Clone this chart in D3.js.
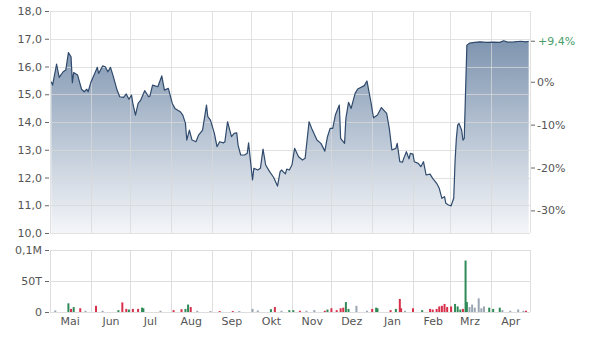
<!DOCTYPE html>
<html>
<head>
<meta charset="utf-8">
<script src="https://cdn.jsdelivr.net/npm/d3@7"></script>
<style>
  body { margin: 0; background: #fff; }
  svg text { font-family: "DejaVu Sans", Verdana, sans-serif; font-size: 11px; fill: #555; }
  .axis path.domain { display: none; }
  .axis line { stroke: #666; }
</style>
</head>
<body>
<div id="chart"></div>
<script>
// price series
var priceDates = [
  "2022-05-02","2022-05-03","2022-05-06","2022-05-08","2022-05-11","2022-05-13","2022-05-15","2022-05-17",
  "2022-05-18","2022-05-19","2022-05-22","2022-05-25","2022-05-27","2022-05-29","2022-05-30","2022-06-01",
  "2022-06-04","2022-06-06","2022-06-07","2022-06-10","2022-06-12","2022-06-14","2022-06-16","2022-06-18",
  "2022-06-21","2022-06-23","2022-06-26","2022-06-28","2022-06-30","2022-07-02","2022-07-03","2022-07-05",
  "2022-07-07","2022-07-09","2022-07-12","2022-07-15","2022-07-16","2022-07-18","2022-07-22","2022-07-25",
  "2022-07-27","2022-07-30","2022-08-02","2022-08-04","2022-08-08","2022-08-10","2022-08-12","2022-08-13",
  "2022-08-15","2022-08-17","2022-08-20","2022-08-22","2022-08-25","2022-08-28","2022-08-29","2022-08-31",
  "2022-09-03","2022-09-05","2022-09-07","2022-09-10","2022-09-11","2022-09-13","2022-09-15","2022-09-16",
  "2022-09-18","2022-09-20","2022-09-21","2022-09-23","2022-09-26","2022-09-28","2022-09-29","2022-10-02",
  "2022-10-03","2022-10-06","2022-10-08","2022-10-10","2022-10-12","2022-10-15","2022-10-18","2022-10-21",
  "2022-10-23","2022-10-24","2022-10-27","2022-10-28","2022-10-30","2022-11-01","2022-11-03","2022-11-06",
  "2022-11-09","2022-11-11","2022-11-14","2022-11-16","2022-11-20","2022-11-23","2022-11-26","2022-11-28",
  "2022-11-30","2022-12-02","2022-12-04","2022-12-07","2022-12-08","2022-12-11","2022-12-12","2022-12-14",
  "2022-12-16","2022-12-19","2022-12-21","2022-12-26","2022-12-28","2022-12-31","2023-01-02","2023-01-05",
  "2023-01-08","2023-01-12","2023-01-14","2023-01-16","2023-01-19","2023-01-20","2023-01-22","2023-01-24",
  "2023-01-25","2023-01-27","2023-01-29","2023-01-30","2023-02-01","2023-02-02","2023-02-05","2023-02-07",
  "2023-02-09","2023-02-11","2023-02-14","2023-02-16","2023-02-19","2023-02-21","2023-02-23","2023-02-25",
  "2023-02-26","2023-02-28","2023-03-02","2023-03-04","2023-03-05","2023-03-06","2023-03-07","2023-03-08",
  "2023-03-10","2023-03-11","2023-03-12","2023-03-14","2023-03-16","2023-03-20","2023-03-24","2023-03-29",
  "2023-04-03","2023-04-08","2023-04-11","2023-04-14","2023-04-19","2023-04-24","2023-04-28","2023-04-30"
];
var priceValues = [
  15.45,15.33,16.09,15.61,15.81,15.87,16.50,16.35,
  15.42,15.78,15.69,15.18,15.09,15.18,15.09,15.42,
  15.75,15.97,15.75,16.02,15.99,15.81,15.97,15.66,
  15.15,14.91,14.89,15.01,14.82,14.97,14.67,14.25,
  14.67,14.79,15.13,14.91,14.94,15.33,15.27,15.66,
  15.15,15.21,14.67,14.49,14.37,14.25,13.95,13.35,
  13.71,13.35,13.29,13.53,13.71,14.61,14.19,14.07,
  13.59,13.11,13.29,13.25,13.29,14.01,13.65,13.47,
  13.59,13.61,13.17,12.81,12.81,12.87,13.25,11.91,
  12.33,12.27,12.33,13.02,12.45,12.21,12.01,11.69,
  12.21,12.27,12.13,12.30,12.27,12.45,13.05,12.75,
  12.63,12.69,14.01,13.77,13.35,13.23,12.95,13.47,
  13.77,13.77,14.25,14.61,13.41,13.23,14.13,14.71,
  14.49,15.03,15.19,15.31,15.48,14.73,14.15,14.25,
  14.52,14.31,13.77,12.99,13.05,13.23,12.57,12.55,
  12.69,12.93,12.67,12.87,12.84,12.57,12.51,12.39,
  12.57,12.09,12.12,11.97,11.79,11.61,11.25,11.31,
  11.07,11.01,10.98,11.25,12.57,13.41,13.89,13.95,
  13.71,13.35,13.41,16.77,16.84,16.87,16.89,16.87,
  16.88,16.87,16.93,16.88,16.89,16.91,16.89,16.91
];

// volume series: direction 1 = up, -1 = down, 0 = unchanged
var volDates = [
  "2022-05-05","2022-05-15","2022-05-17","2022-05-19","2022-05-24","2022-05-28","2022-06-05","2022-06-10",
  "2022-06-22","2022-06-25","2022-06-28","2022-06-30","2022-07-03","2022-07-07","2022-07-10","2022-07-11",
  "2022-07-24","2022-08-03","2022-08-09","2022-08-12","2022-08-14","2022-08-16","2022-08-21","2022-08-31",
  "2022-09-07","2022-09-17","2022-09-22","2022-10-02","2022-10-06","2022-10-16","2022-10-19","2022-10-24",
  "2022-10-30","2022-11-02","2022-11-07","2022-11-12","2022-11-18","2022-11-26","2022-11-28","2022-12-01",
  "2022-12-05","2022-12-08","2022-12-10","2022-12-12","2022-12-14","2022-12-20","2022-12-28","2023-01-01",
  "2023-01-04","2023-01-05","2023-01-15","2023-01-19","2023-01-22","2023-01-23","2023-01-26","2023-02-01",
  "2023-02-08","2023-02-14","2023-02-16","2023-02-19","2023-02-21","2023-02-23","2023-02-25","2023-02-27",
  "2023-03-02","2023-03-05","2023-03-07","2023-03-09","2023-03-11","2023-03-13","2023-03-14","2023-03-16",
  "2023-03-18","2023-03-20","2023-03-23","2023-03-25","2023-03-27","2023-03-31","2023-04-03","2023-04-08",
  "2023-04-10","2023-04-16","2023-04-22","2023-04-26","2023-04-28"
];
var volValues = [
  2500,14000,5000,8000,6000,2000,10000,2000,
  3000,15500,5000,4000,5000,5000,7000,6000,
  2000,3000,4500,5000,12000,8000,2000,1500,
  1500,1500,1500,5000,2500,4500,8000,2000,
  3000,3000,2000,2000,3000,2000,4000,6000,
  3000,6000,7000,16000,5000,10000,2000,5000,
  7000,6000,3000,5000,21000,6000,2000,6000,
  3000,5000,4000,5000,9000,10000,13000,8000,
  9000,13000,9000,4000,5000,83000,16000,8000,
  12000,7000,22000,6000,9000,7000,5000,7000,
  3000,2000,4000,2000,2000
];
var volDir = [
  0,1,-1,1,-1,0,-1,0,
  1,-1,-1,1,-1,-1,1,1,
  0,-1,-1,1,1,-1,0,0,
  -1,-1,0,0,0,1,-1,0,
  1,1,-1,0,0,-1,1,-1,
  -1,-1,-1,1,1,0,0,-1,
  1,1,-1,1,-1,-1,0,-1,
  1,-1,-1,-1,-1,-1,-1,-1,
  -1,1,1,1,-1,1,1,0,
  0,0,0,0,0,1,1,1,
  0,0,0,0,-1
];

var monthLabels = ["Mai","Jun","Jul","Aug","Sep","Okt","Nov","Dez","Jan","Feb","Mrz","Apr"];
var priceTicks = [10, 11, 12, 13, 14, 15, 16, 17, 18];
var pctTicks = [-30, -20, -10, 0];
var volTicks = [0, 50000, 100000];

var width = 595, height = 340;
var parse = d3.timeParse("%Y-%m-%d");
var start = parse("2022-05-01"), end = parse("2023-05-01");

var svg = d3.select("#chart").append("svg")
    .attr("width", width)
    .attr("height", height);

var x = d3.scaleTime().domain([start, end]).range([50, 530]);
var y = d3.scaleLinear().domain([10, 18]).range([233, 11]);
var base = priceValues[0];
var yPct = d3.scaleLinear().domain([(10 / base - 1) * 100, (18 / base - 1) * 100]).range([233, 11]);
var yVol = d3.scaleLinear().domain([0, 100000]).range([312, 250]);

var prices = priceDates.map(function(d, i) { return {date: parse(d), value: priceValues[i]}; });
var months = d3.timeMonth.range(start, d3.timeDay.offset(end, 1));

var comma = function(s) { return s.replace(".", ","); };

// gradient for the area
var defs = svg.append("defs");
var grad = defs.append("linearGradient")
    .attr("id", "areaGrad")
    .attr("gradientUnits", "userSpaceOnUse")
    .attr("x1", 0).attr("y1", y(18))
    .attr("x2", 0).attr("y2", y(10));
grad.append("stop").attr("offset", "0%").attr("stop-color", "#6d86a5");
grad.append("stop").attr("offset", "100%").attr("stop-color", "#f4f6f9");

// price area + line
var area = d3.area()
    .x(function(d) { return x(d.date); })
    .y0(y(10))
    .y1(function(d) { return y(d.value); });
var line = d3.line()
    .x(function(d) { return x(d.date); })
    .y(function(d) { return y(d.value); });

svg.append("path")
    .datum(prices)
    .attr("d", area)
    .attr("fill", "url(#areaGrad)");

// grid on top of the area, lightly
var grid = svg.append("g").attr("stroke", "#d8d8d8").attr("stroke-opacity", 0.75).attr("shape-rendering", "crispEdges");
grid.selectAll("line.h").data(priceTicks).enter().append("line")
    .attr("x1", 50).attr("x2", 530)
    .attr("y1", function(d) { return Math.round(y(d)) + 0.5; })
    .attr("y2", function(d) { return Math.round(y(d)) + 0.5; });
grid.selectAll("line.v").data(months).enter().append("line")
    .attr("x1", function(d) { return Math.round(x(d)) + 0.5; })
    .attr("x2", function(d) { return Math.round(x(d)) + 0.5; })
    .attr("y1", y(18)).attr("y2", y(10));

svg.append("path")
    .datum(prices)
    .attr("d", line)
    .attr("fill", "none")
    .attr("stroke", "#2f4a6c")
    .attr("stroke-width", 1.2)
    .attr("stroke-linejoin", "round");

// left price axis
svg.append("g")
    .attr("class", "axis")
    .attr("transform", "translate(49,0)")
    .call(d3.axisLeft(y).tickValues(priceTicks).tickSize(4).tickPadding(3)
        .tickFormat(function(d) { return comma(d3.format(".1f")(d)); }));

// right percent axis
var last = priceValues[priceValues.length - 1];
var lastPct = (last / base - 1) * 100;
svg.append("g")
    .attr("class", "axis")
    .attr("transform", "translate(531,0)")
    .call(d3.axisRight(yPct).tickValues(pctTicks).tickSize(4).tickPadding(2)
        .tickFormat(function(d) { return d + "%"; }));

var lastTick = svg.append("g").attr("transform", "translate(531," + y(last) + ")");
lastTick.append("line").attr("x2", 4).attr("stroke", "#666");
lastTick.append("text")
    .attr("x", 7).attr("dy", "0.32em")
    .style("fill", "#4a9e6b")
    .text("+" + comma(d3.format(".1f")(lastPct)) + "%");

// volume panel
var vgrid = svg.append("g").attr("stroke", "#dedede").attr("shape-rendering", "crispEdges");
vgrid.selectAll("line.h").data(volTicks).enter().append("line")
    .attr("x1", 50).attr("x2", 530)
    .attr("y1", function(d) { return Math.round(yVol(d)) + 0.5; })
    .attr("y2", function(d) { return Math.round(yVol(d)) + 0.5; });
vgrid.selectAll("line.v").data(months).enter().append("line")
    .attr("x1", function(d) { return Math.round(x(d)) + 0.5; })
    .attr("x2", function(d) { return Math.round(x(d)) + 0.5; })
    .attr("y1", yVol(100000)).attr("y2", yVol(0));

var volColor = function(dir) {
    if (dir > 0) return "#2e8b57";
    if (dir < 0) return "#d6304a";
    return "#9aa6b4";
};

svg.append("g").selectAll("rect")
    .data(volDates.map(function(d, i) { return {date: parse(d), value: volValues[i], dir: volDir[i]}; }))
    .enter().append("rect")
    .attr("x", function(d) { return x(d.date) - 1; })
    .attr("width", 2)
    .attr("y", function(d) { return yVol(d.value); })
    .attr("height", function(d) { return yVol(0) - yVol(d.value); })
    .attr("fill", function(d) { return volColor(d.dir); });

svg.append("g")
    .attr("class", "axis")
    .attr("transform", "translate(49,0)")
    .call(d3.axisLeft(yVol).tickValues(volTicks).tickSize(4).tickPadding(3)
        .tickFormat(function(d) {
            if (d === 0) return "0";
            if (d >= 100000) return comma(String(d / 1e6)) + "M";
            return (d / 1000) + "T";
        }));

// month labels at mid month
var mids = months.slice(0, 12).map(function(m) { return d3.timeDay.offset(m, 15); });
var xAxis = svg.append("g")
    .attr("class", "axis")
    .attr("transform", "translate(0,312)")
    .call(d3.axisBottom(x).tickValues(mids).tickSize(0).tickPadding(5)
        .tickFormat(function(d, i) { return monthLabels[i]; }));
</script>
</body>
</html>
